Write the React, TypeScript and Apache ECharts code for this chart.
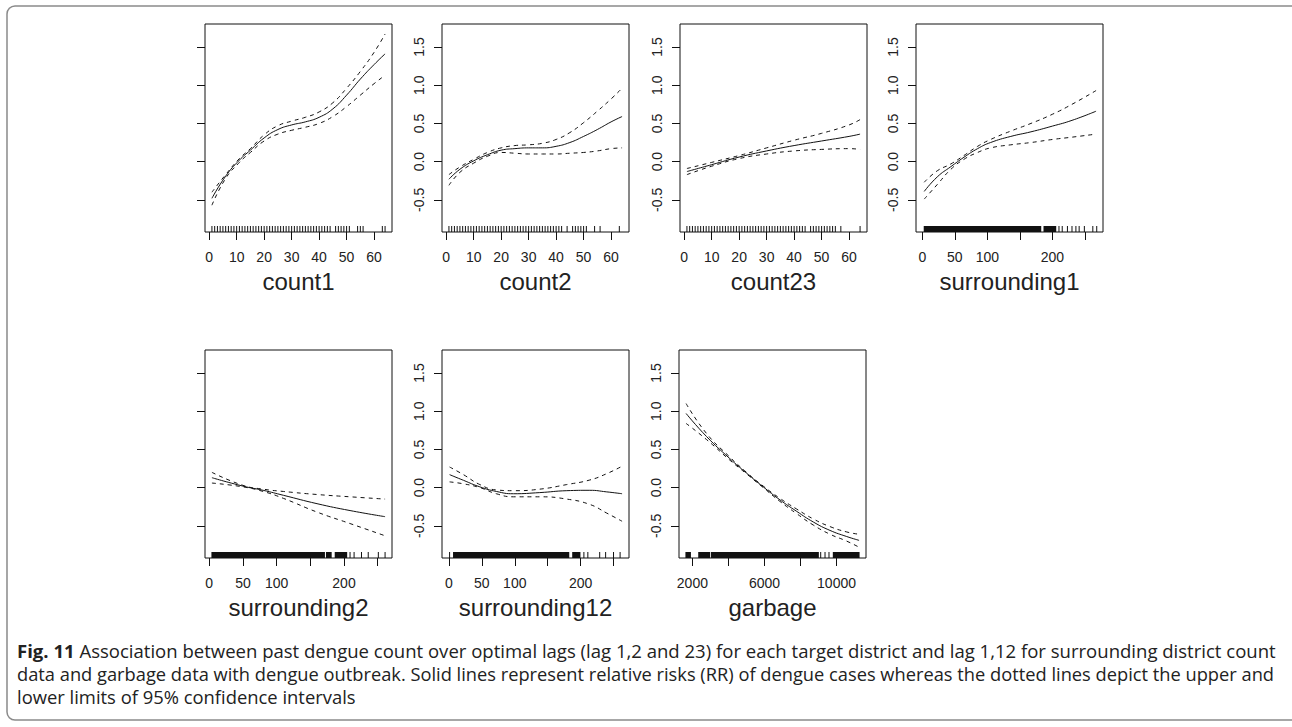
import React, { useEffect, useRef } from 'react';
import * as echarts from 'echarts';

// ---------------- data ----------------
const yTicks = [-0.5, 0, 0.5, 1.0, 1.5];
const yDataRange = [-0.82, 1.7];

const countTicks = [0, 10, 20, 30, 40, 50, 60];
const countLabels = [0, 10, 20, 30, 40, 50, 60];
const surroundTicks = [0, 50, 100, 150, 200, 250];
const surroundLabels = [0, 50, 100, 200];
const garbageTicks = [2000, 4000, 6000, 8000, 10000];
const garbageLabels = [2000, 6000, 10000];

// count1
const count1X = [1, 6, 11, 15, 20, 25, 30, 35, 40, 45, 50, 55, 60, 64];
const count1Fit = [-0.48, -0.19, 0.02, 0.15, 0.31, 0.42, 0.48, 0.52, 0.58, 0.69, 0.87, 1.08, 1.27, 1.41];
const count1Upper = [-0.4, -0.17, 0.04, 0.17, 0.35, 0.47, 0.53, 0.58, 0.65, 0.77, 0.96, 1.18, 1.43, 1.67];
const count1Lower = [-0.57, -0.22, -0.01, 0.12, 0.27, 0.36, 0.41, 0.45, 0.5, 0.59, 0.72, 0.87, 1.02, 1.13];
const count1Rug = [1, 2, 3, 4, 5, 6, 7, 8, 9, 10, 11, 12, 13, 14, 15, 16, 17, 18, 19, 20, 21, 22, 23, 24, 25, 26, 27, 28, 29, 30, 31, 32, 33, 34, 35, 36, 37, 38, 39, 40, 41, 42, 43, 44, 46, 47, 48, 49, 50, 51, 54, 55, 56, 63, 64];
const count1Extent = [1, 64];

// count2
const count2X = [1, 5, 10, 15, 20, 25, 30, 35, 40, 45, 50, 55, 60, 64];
const count2Fit = [-0.23, -0.1, 0.01, 0.09, 0.15, 0.17, 0.18, 0.18, 0.2, 0.25, 0.33, 0.42, 0.52, 0.59];
const count2Upper = [-0.17, -0.07, 0.03, 0.12, 0.18, 0.21, 0.22, 0.24, 0.29, 0.38, 0.51, 0.66, 0.82, 0.96];
const count2Lower = [-0.31, -0.14, -0.02, 0.07, 0.12, 0.11, 0.1, 0.1, 0.1, 0.11, 0.12, 0.14, 0.17, 0.18];
const count2Rug = [1, 2, 3, 4, 5, 6, 7, 8, 9, 10, 11, 12, 13, 14, 15, 16, 17, 18, 19, 20, 21, 22, 23, 24, 25, 26, 27, 28, 29, 30, 31, 32, 33, 34, 35, 36, 37, 38, 39, 40, 41, 42, 44, 46, 47, 48, 49, 50, 51, 54, 56, 63];
const count2Extent = [1, 64];

// count23
const count23X = [1, 10, 20, 30, 40, 50, 60, 64];
const count23Fit = [-0.13, -0.04, 0.06, 0.14, 0.21, 0.27, 0.33, 0.36];
const count23Upper = [-0.09, -0.01, 0.08, 0.18, 0.28, 0.37, 0.48, 0.55];
const count23Lower = [-0.17, -0.06, 0.04, 0.1, 0.14, 0.16, 0.17, 0.16];
const count23Rug = [1, 2, 3, 4, 5, 6, 7, 8, 9, 10, 11, 12, 13, 14, 15, 16, 17, 18, 19, 20, 21, 22, 23, 24, 25, 26, 27, 28, 29, 30, 31, 32, 33, 34, 35, 36, 37, 38, 39, 40, 41, 42, 43, 44, 46, 47, 48, 49, 50, 51, 52, 53, 54, 55, 57, 64];
const count23Extent = [1, 64];

// surrounding1
const surr1X = [3, 23, 44, 64, 85, 105, 136, 167, 200, 230, 267];
const surr1Fit = [-0.39, -0.2, -0.065, 0.057, 0.17, 0.25, 0.33, 0.39, 0.465, 0.54, 0.66];
const surr1Upper = [-0.27, -0.12, -0.03, 0.08, 0.2, 0.29, 0.4, 0.5, 0.62, 0.75, 0.93];
const surr1Lower = [-0.49, -0.3, -0.1, 0.03, 0.12, 0.18, 0.22, 0.25, 0.29, 0.32, 0.36];
const surr1Rug = [[3, 182], [187, 205], 210, 215, 223, 230, 236, 241, 249, 262, 268];
const surr1Extent = [1, 267];

// surrounding2
const surr2X = [4, 50, 80, 110, 160, 209, 261];
const surr2Fit = [0.13, 0.02, -0.035, -0.1, -0.21, -0.3, -0.38];
const surr2Upper = [0.2, 0.03, -0.02, -0.05, -0.09, -0.12, -0.15];
const surr2Lower = [0.06, 0.01, -0.05, -0.14, -0.32, -0.47, -0.63];
const surr2Rug = [[4, 171], [174, 181], [187, 204], 209, 215, 226, 236, 251, 261];
const surr2Extent = [4, 261];

// surrounding12
const surr12X = [1, 22, 47, 72, 98, 138, 179, 214, 239, 263];
const surr12Fit = [0.17, 0.096, 0.01, -0.05, -0.08, -0.065, -0.04, -0.035, -0.055, -0.08];
const surr12Upper = [0.27, 0.17, 0.04, -0.03, -0.04, -0.02, 0.04, 0.1, 0.18, 0.28];
const surr12Lower = [0.075, 0.05, 0.0, -0.08, -0.12, -0.12, -0.15, -0.22, -0.33, -0.44];
const surr12Rug = [1, [7, 182], [188, 199], 205, 211, 229, 238, 250, 260];
const surr12Extent = [0, 263];

// garbage
const garbageX = [1650, 2779, 4076, 5003, 5930, 6857, 7784, 8711, 9638, 10565, 11250];
const garbageFit = [0.97, 0.67, 0.38, 0.19, 0.01, -0.16, -0.31, -0.45, -0.56, -0.64, -0.69];
const garbageUpper = [1.1, 0.71, 0.4, 0.2, 0.02, -0.14, -0.28, -0.41, -0.51, -0.58, -0.61];
const garbageLower = [0.84, 0.63, 0.36, 0.18, 0.0, -0.18, -0.34, -0.49, -0.61, -0.7, -0.78];
const garbageRug = [[1640, 1890], [2350, 2960], [3060, 8990], 9120, 9360, 9580, [9820, 11250]];
const garbageExtent = [1640, 11250];

const captionBold = 'Fig. 11';
const captionLines = [
  'Association between past dengue count over optimal lags (lag 1,2 and 23) for each target district and lag 1,12 for surrounding district count',
  'data and garbage data with dengue outbreak. Solid lines represent relative risks (RR) of dengue cases whereas the dotted lines depict the upper and',
  'lower limits of 95% confidence intervals',
];

const PANELS = [
  { title: 'count1', xs: count1X, fit: count1Fit, upper: count1Upper, lower: count1Lower, rug: count1Rug, extent: count1Extent, ticks: countTicks, labels: countLabels, yLabels: false },
  { title: 'count2', xs: count2X, fit: count2Fit, upper: count2Upper, lower: count2Lower, rug: count2Rug, extent: count2Extent, ticks: countTicks, labels: countLabels, yLabels: true },
  { title: 'count23', xs: count23X, fit: count23Fit, upper: count23Upper, lower: count23Lower, rug: count23Rug, extent: count23Extent, ticks: countTicks, labels: countLabels, yLabels: true },
  { title: 'surrounding1', xs: surr1X, fit: surr1Fit, upper: surr1Upper, lower: surr1Lower, rug: surr1Rug, extent: surr1Extent, ticks: surroundTicks, labels: surroundLabels, yLabels: true },
  { title: 'surrounding2', xs: surr2X, fit: surr2Fit, upper: surr2Upper, lower: surr2Lower, rug: surr2Rug, extent: surr2Extent, ticks: surroundTicks, labels: surroundLabels, yLabels: false },
  { title: 'surrounding12', xs: surr12X, fit: surr12Fit, upper: surr12Upper, lower: surr12Lower, rug: surr12Rug, extent: surr12Extent, ticks: surroundTicks, labels: surroundLabels, yLabels: true },
  { title: 'garbage', xs: garbageX, fit: garbageFit, upper: garbageUpper, lower: garbageLower, rug: garbageRug, extent: garbageExtent, ticks: garbageTicks, labels: garbageLabels, yLabels: true },
];

// ---------------- layout ----------------
const LAYOUT = [
  { left: 205, top: 24 },
  { left: 442, top: 24 },
  { left: 680, top: 24 },
  { left: 916, top: 24 },
  { left: 205, top: 350 },
  { left: 442, top: 350 },
  { left: 679, top: 350 },
];
const PANEL_W = 187;
const PANEL_H = 208;
const AXIS_FONT = '"Liberation Sans", Arial, sans-serif';
const CAPTION_FONT = '"Open Sans", "Noto Sans", sans-serif';
const CAPTION_SIZE = 18;
const CAPTION_X = 17;
const CAPTION_RIGHT = 1276;
const CAPTION_Y = [651, 674, 697];

function pad(ext: number[]) {
  const r = ext[1] - ext[0];
  return [ext[0] - 0.04 * r, ext[1] + 0.04 * r];
}

function measure(text: string, font: string) {
  const c = document.createElement('canvas').getContext('2d')!;
  c.font = font;
  return c.measureText(text).width;
}

function buildOption() {
  const yDom = pad(yDataRange);
  const grid: any[] = [];
  const xAxis: any[] = [];
  const yAxis: any[] = [];
  const series: any[] = [];

  PANELS.forEach((p, i) => {
    const L = LAYOUT[i];
    const xDom = pad(p.extent);
    grid.push({
      left: L.left, top: L.top, width: PANEL_W, height: PANEL_H,
      show: true, borderColor: '#111', borderWidth: 1, backgroundColor: '#fff',
    });
    xAxis.push({
      type: 'value', gridIndex: i, min: xDom[0], max: xDom[1], position: 'bottom',
      axisLine: { show: false, onZero: false },
      splitLine: { show: false },
      axisTick: { show: true, length: 8, customValues: p.ticks, lineStyle: { color: '#111', width: 1 } },
      axisLabel: {
        show: true, customValues: p.labels, margin: 18,
        fontSize: 14, fontFamily: AXIS_FONT, color: '#222',
        formatter: (v: number) => String(v),
      },
      name: p.title, nameLocation: 'middle', nameGap: 37,
      nameTextStyle: { fontSize: 24, fontFamily: AXIS_FONT, color: '#222' },
    });
    yAxis.push({
      type: 'value', gridIndex: i, min: yDom[0], max: yDom[1], position: 'left',
      axisLine: { show: false, onZero: false },
      splitLine: { show: false },
      axisTick: { show: true, length: 8, customValues: yTicks, lineStyle: { color: '#111', width: 1 } },
      axisLabel: {
        show: p.yLabels, customValues: yTicks, rotate: 90, margin: 16,
        fontSize: 14, fontFamily: AXIS_FONT, color: '#222',
        formatter: (v: number) => v.toFixed(1),
      },
    });
    const mk = (ys: number[]) => p.xs.map((x, k) => [x, ys[k]]);
    const lineBase = {
      type: 'line', xAxisIndex: i, yAxisIndex: i, showSymbol: false, symbol: 'none',
      smooth: 0.5, silent: true, z: 3,
    };
    series.push({ ...lineBase, name: p.title + ' fit', data: mk(p.fit), lineStyle: { color: '#111', width: 1, type: 'solid' } });
    series.push({ ...lineBase, name: p.title + ' upper', data: mk(p.upper), lineStyle: { color: '#111', width: 1, type: [4, 4] } });
    series.push({ ...lineBase, name: p.title + ' lower', data: mk(p.lower), lineStyle: { color: '#111', width: 1, type: [4, 4] } });
    const rugData = p.rug.map((e: any) => (typeof e === 'number' ? [e, e, yDom[0]] : [e[0], e[1], yDom[0]]));
    series.push({
      type: 'custom', name: p.title + ' rug', xAxisIndex: i, yAxisIndex: i, silent: true, z: 2,
      encode: { x: [0, 1], y: 2 },
      data: rugData,
      renderItem: (params: any, api: any) => {
        const a = api.coord([api.value(0), api.value(2)]);
        const b = api.coord([api.value(1), api.value(2)]);
        const w = Math.max(b[0] - a[0] + 1, 1);
        return {
          type: 'rect',
          shape: { x: a[0] - 0.5, y: a[1] - 6, width: w, height: 6 },
          style: { fill: '#111' },
        };
      },
    });
  });

  // caption
  const boldFont = `bold ${CAPTION_SIZE}px ${CAPTION_FONT}`;
  const normFont = `${CAPTION_SIZE}px ${CAPTION_FONT}`;
  const boldW = measure(captionBold + ' ', boldFont);
  const graphics: any[] = [
    {
      type: 'rect', silent: true, z: -1,
      shape: { x: 7, y: 6, width: 1320, height: 714, r: 8 },
      style: { fill: 'none', stroke: '#8a8a8a', lineWidth: 1.5 },
    },
  ];
  const scales: number[] = [];
  captionLines.forEach((line, k) => {
    const w = measure(line, normFont) + (k === 0 ? boldW : 0);
    scales.push((CAPTION_RIGHT - CAPTION_X) / w);
  });
  scales[2] = (scales[0] + scales[1]) / 2;
  captionLines.forEach((line, k) => {
    const s = scales[k];
    if (k === 0) {
      graphics.push({
        type: 'text', x: CAPTION_X, y: CAPTION_Y[k], scaleX: s, silent: true,
        style: { text: captionBold, font: boldFont, fill: '#222', verticalAlign: 'middle', align: 'left' },
      });
    }
    graphics.push({
      type: 'text', x: CAPTION_X + (k === 0 ? boldW * s : 0), y: CAPTION_Y[k], scaleX: s, silent: true,
      style: { text: line, font: normFont, fill: '#222', verticalAlign: 'middle', align: 'left' },
    });
  });

  return {
    animation: false,
    backgroundColor: '#fff',
    grid, xAxis, yAxis, series,
    graphic: { elements: graphics },
  };
}

export default function App() {
  const ref = useRef<HTMLDivElement>(null);
  useEffect(() => {
    if (!ref.current) return;
    const chart = echarts.init(ref.current, undefined, { renderer: 'svg' });
    chart.setOption(buildOption() as any);
    return () => chart.dispose();
  }, []);
  return (
    <div
      ref={ref}
      style={{ position: 'absolute', left: 0, top: 0, width: 1292, height: 727, background: '#fff' }}
    />
  );
}
